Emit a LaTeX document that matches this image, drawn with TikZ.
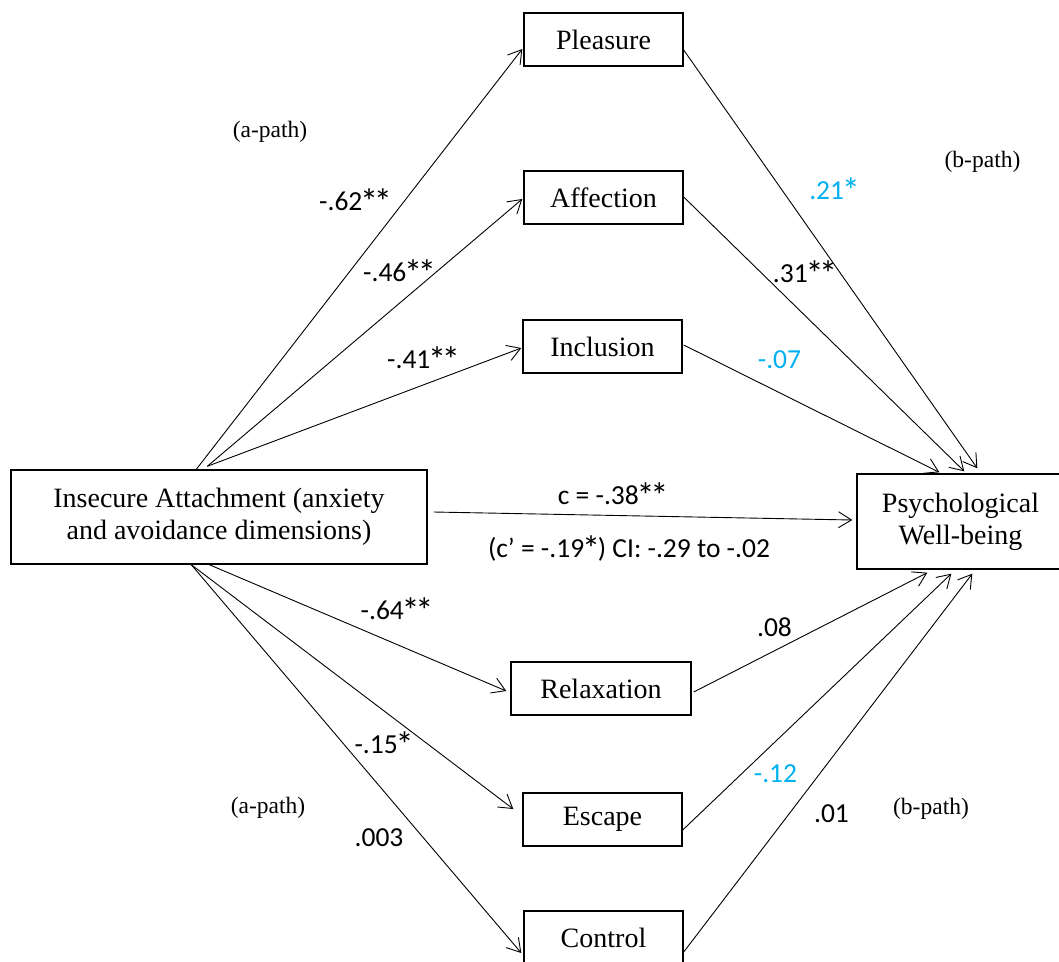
\documentclass[tikz,border=0pt]{standalone}
\usepackage{fontspec}
\setmainfont{Liberation Serif}
\newfontfamily\labfont{Carlito}
\usetikzlibrary{arrows.meta,calc}
\definecolor{cblue}{HTML}{00B0F0}
\newcommand\myast{\kern-0.08em\raisebox{-0.15em}{\scalebox{1.32}{*}}\kern-0.08em}
\begin{document}
\begin{tikzpicture}[x=1pt,y=-1pt,
  box/.style={draw, line width=1.4pt, inner sep=0pt, align=center,
    font=\fontsize{28}{32}\selectfont},
  conn/.style={line width=0.9pt,
    -{Straight Barb[length=13pt,width=16pt,line width=0.9pt]}},
  coef/.style={font=\labfont\fontsize{27.5}{33}\selectfont, inner sep=0pt},
  hi/.style={coef, text=cblue},
  pathlab/.style={font=\fontsize{23.5}{28}\selectfont, inner sep=0pt}]
\useasboundingbox (0,0) rectangle (1059,961);
\clip (0,0) rectangle (1059,961);

% boxes
\node[box, minimum width=159pt, minimum height=53pt] (pl) at (603.5,39.5) {Pleasure};
\node[box, minimum width=159pt, minimum height=53pt] (af) at (603.5,197.5) {Affection};
\node[box, minimum width=159pt, minimum height=53pt] (in) at (602.5,346.5) {Inclusion};
\node[box, minimum width=416pt, minimum height=94pt] (ia) at (219,517) {Insecure Attachment (anxiety\\and avoidance dimensions)};
\node[box, minimum width=207pt, minimum height=95pt] (pwb) at (960.5,521.5) {Psychological\\Well-being};
\node[box, minimum width=180pt, minimum height=53pt] (re) at (601,688.5) {Relaxation};
\node[box, minimum width=159pt, minimum height=53pt] (es) at (602.5,819.5) {Escape};
\node[box, minimum width=159pt, minimum height=53pt] (co) at (603.5,937.5) {Control};

% a-paths
\draw[conn] ($(ia.north west)+(186,0)$) -- ($(pl.west)+(-1,9.5)$);
\draw[conn] ($(ia.north west)+(197,-3)$) -- ($(af.west)+(-1,1.5)$);
\draw[conn] ($(ia.north west)+(197,-3)$) -- ($(in.west)+(-1,1.5)$);
\draw[conn] ($(ia.south west)+(199,0)$) -- ($(re.west)+(-4,2.5)$);
\draw[conn] ($(ia.south west)+(181,0)$) -- ($(es.west)+(-9,-10.5)$);
\draw[conn] ($(ia.south west)+(181,0)$) -- ($(co.west)+(-2,15.5)$);
% c path
\draw[conn] ($(ia.east)+(6,-5)$) -- ($(pwb.west)+(-4,-1.5)$);

% b-paths
\draw[conn] ($(pl.east)+(0,10.5)$) -- ($(pwb.north west)+(121,-5)$);
\draw[conn] ($(af.east)+(0,-0.5)$) -- ($(pwb.north west)+(108,-2)$);
\draw[conn] ($(in.east)+(1,-1.5)$) -- ($(pwb.north west)+(83,-1)$);
\draw[conn] ($(re.east)+(2,3.5)$) -- ($(pwb.south west)+(71,3)$);
\draw[conn] ($(es.east)+(0,10.5)$) -- ($(pwb.south west)+(95,4)$);
\draw[conn] ($(co.east)+(0,14.5)$) -- ($(pwb.south west)+(116,4)$);

% labels
\node[pathlab] (ap1) at (270,132) {(a-path)};
\node[pathlab] (ap2) at (268,808) {(a-path)};
\node[pathlab] (bp1) at (982.5,162) {(b-path)};
\node[pathlab] (bp2) at (931,809) {(b-path)};

\node[coef] (l62) at (354.5,202) {-.62\myast\myast};
\node[coef] (l46) at (398.5,273) {-.46\myast\myast};
\node[coef] (l41) at (422.5,360) {-.41\myast\myast};
\node[hi] (l21) at (833.5,191) {.21\myast};
\node[coef] (l31) at (804,274) {.31\myast\myast};
\node[hi] (l07) at (779.5,360) {-.07};
\node[coef] (lc) at (612,496) {c = -.38\myast\myast};
\node[coef] (lcp) at (629,549) {(c’ = -.19\myast) CI: -.29 to -.02};
\node[coef] (l64) at (396,611) {-.64\myast\myast};
\node[coef] (l15) at (383,744.5) {-.15\myast};
\node[coef] (l003) at (379,837.5) {.003};
\node[coef] (l08) at (774.5,627) {.08};
\node[hi] (l12) at (775.5,774) {-.12};
\node[coef] (l01) at (831.5,814) {.01};
\end{tikzpicture}
\end{document}
